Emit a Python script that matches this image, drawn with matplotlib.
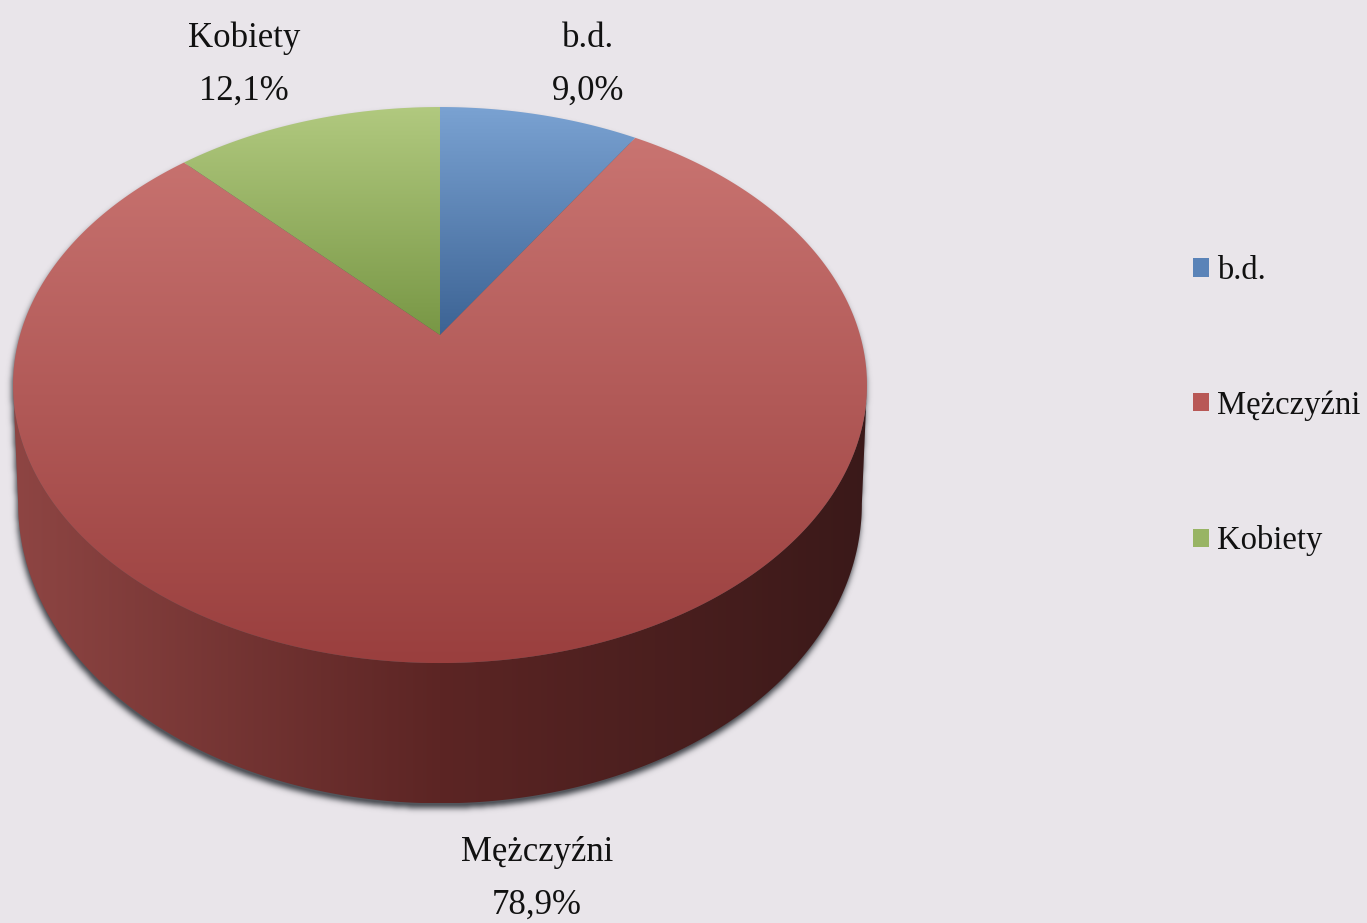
import numpy as np
import matplotlib
matplotlib.use('Agg')
import matplotlib.pyplot as plt
from matplotlib.patches import Polygon, Patch
from matplotlib.path import Path
from matplotlib.colors import to_rgb

# ---------------- data ----------------
categories = ['b.d.', 'Mężczyźni', 'Kobiety']
values = [9.0, 78.9, 12.1]
value_labels = ['9,0%', '78,9%', '12,1%']

# ---------------- style ----------------
W, H = 1367, 923
BG = '#e9e5ea'
FONT = ['Liberation Serif', 'DejaVu Serif']
FS = 25
FS_LEG = 23.5
top_grad = {'b.d.': ('#7aa2d2', '#3c6394'),
            'Mężczyźni': ('#c97471', '#9a3f3e'),
            'Kobiety': ('#b1c97f', '#789745')}
legend_col = {'b.d.': '#5a83b8', 'Mężczyźni': '#b85856', 'Kobiety': '#98b464'}
side_stops = [(15, '#8e4543'), (440, '#5c2524'), (870, '#3a1919')]

fig = plt.figure(figsize=(W / 100, H / 100), dpi=100)
fig.patch.set_facecolor(BG)
ax = fig.add_axes([0, 0, 1, 1])
ax.set_xlim(0, W)
ax.set_ylim(H, 0)
ax.axis('off')
ax.set_facecolor(BG)

# perspective projection of the pie disk
CX, CY = 440, 385
A, B, C, K, E = 420, 278, 50, 0.18, 115
SHRINK = 0.012


def proj(theta_deg, t=0.0):
    th = np.radians(theta_deg)
    X, Z = np.cos(th), np.sin(th)
    den = 1 + K * Z
    return CX + A * X * (1 - SHRINK * t) / den, CY - (B * Z + C - E * t) / den


apex = (CX, CY - C)


def gradient_fill(poly_xy, c_top, c_bot, zorder, horizontal=None):
    patch = Polygon(poly_xy, closed=True, facecolor='none', edgecolor='none', zorder=zorder)
    ax.add_patch(patch)
    xs, ys = poly_xy[:, 0], poly_xy[:, 1]
    x0, x1, y0, y1 = xs.min(), xs.max(), ys.min(), ys.max()
    if horizontal is None:
        n = 256
        f = np.linspace(0, 1, n)[:, None]
        ct, cb = np.array(to_rgb(c_top)), np.array(to_rgb(c_bot))
        img = ct[None, None, :] * (1 - f[..., None]) + cb[None, None, :] * f[..., None]
    else:
        xx = np.linspace(x0, x1, 512)
        pos = [p for p, _ in horizontal]
        cols = np.array([to_rgb(c) for _, c in horizontal])
        img = np.stack([np.interp(xx, pos, cols[:, i]) for i in range(3)], axis=-1)[None, :, :]
    im = ax.imshow(img, extent=(x0, x1, y1, y0), origin='upper', aspect='auto',
                   interpolation='bilinear', zorder=zorder)
    im.set_clip_path(patch)


# ---------------- silhouette shadow ----------------
ang_full = np.linspace(0, 360, 721)
tx, ty = proj(ang_full, 0)
s1 = np.degrees(np.arcsin(K))
side_ang = np.linspace(180 + s1, 360 - s1, 400)
sx0, sy0 = proj(side_ang, 0)
sx1, sy1 = proj(side_ang, 1)
side_poly = np.column_stack([np.concatenate([sx0, sx1[::-1]]),
                             np.concatenate([sy0, sy1[::-1]])])

yy, xx = np.mgrid[0:H, 0:W]
pts = np.column_stack([xx.ravel() + 0.5, yy.ravel() + 0.5])
sh_dx, sh_dy = -1, 5
m1 = Path(np.column_stack([tx + sh_dx, ty + sh_dy])).contains_points(pts)
m2 = Path(side_poly + [sh_dx, sh_dy]).contains_points(pts)
mask = (m1 | m2).reshape(H, W).astype(float)
sig = 3.0
kr = np.arange(-12, 13)
kern = np.exp(-kr ** 2 / (2 * sig ** 2))
kern /= kern.sum()
mask = np.apply_along_axis(lambda r: np.convolve(r, kern, mode='same'), 1, mask)
mask = np.apply_along_axis(lambda c: np.convolve(c, kern, mode='same'), 0, mask)
shadow = np.zeros((H, W, 4))
shadow[..., :3] = to_rgb('#4a4d53')
shadow[..., 3] = np.clip(mask * 1.1, 0, 0.95)
ax.imshow(shadow, extent=(0, W, H, 0), origin='upper', interpolation='bilinear', zorder=1)

# ---------------- side of the cylinder ----------------
gradient_fill(side_poly, None, None, zorder=2, horizontal=side_stops)

# ---------------- top faces ----------------
total = sum(values)
start = 90.0
for cat, v in zip(categories, values):
    end = start - v / total * 360.0
    ang = np.linspace(start, end, max(int(abs(end - start) * 2), 8))
    px, py = proj(ang, 0)
    poly = np.column_stack([np.concatenate([[apex[0]], px]), np.concatenate([[apex[1]], py])])
    gradient_fill(poly, top_grad[cat][0], top_grad[cat][1], zorder=3)
    start = end

# ---------------- data labels ----------------
label_pos = {'Kobiety': (244, 47), 'b.d.': (588, 47), 'Mężczyźni': (537, 861)}
for cat, lab in zip(categories, value_labels):
    x, yb = label_pos[cat]
    ax.text(x, yb, cat, ha='center', va='baseline', fontsize=FS, family=FONT, color='#111111', zorder=5)
    ax.text(x, yb + 53, lab, ha='center', va='baseline', fontsize=FS, family=FONT, color='#111111', zorder=5)

# ---------------- legend ----------------
handles = [Patch(facecolor=legend_col[c], edgecolor='none') for c in categories]
leg = ax.legend(handles, categories, loc='center left', bbox_to_anchor=(1193 / W, 1 - 406 / H),
                frameon=False, prop={'family': FONT, 'size': FS_LEG}, handlelength=0.48,
                handleheight=0.48, handletextpad=0.25, labelspacing=3.2, borderpad=0,
                borderaxespad=0)
for t in leg.get_texts():
    t.set_color('#111111')

fig.savefig('out.png', dpi=100, facecolor=BG)
